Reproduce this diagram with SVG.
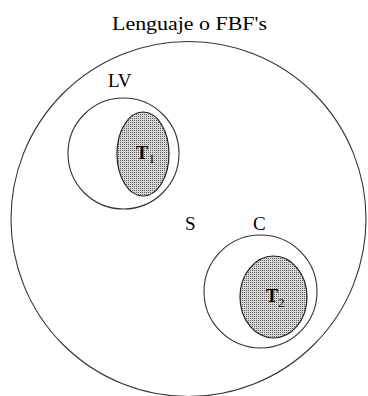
<svg xmlns="http://www.w3.org/2000/svg" width="368" height="396" viewBox="0 0 368 396">
<defs>
<pattern id="stipple" width="2" height="2" patternUnits="userSpaceOnUse">
<rect width="2" height="2" fill="#d8d8d8"/>
<rect width="1" height="1" fill="#606060"/>
</pattern>
<style>
.set{fill:none;stroke:#333;stroke-width:1.1}
.theory{fill:url(#stipple);stroke:#222;stroke-width:1.2}
text{font-family:'Liberation Serif','Times New Roman','DejaVu Serif',serif;fill:#000}
.lbl{font-size:19px}
.tl{font-size:18px;font-weight:bold}
.sub{font-size:13px}
</style>
</defs>
<rect width="368" height="396" fill="#fff"/>
<g id="language">
<text class="lbl" x="112" y="30" textLength="155" lengthAdjust="spacingAndGlyphs">Lenguaje o FBF's</text>
<circle class="set" cx="188.5" cy="219" r="177.5"/>
<text class="lbl" x="185" y="230" font-size="18">S</text>
</g>
<g id="LV">
<circle class="set" cx="123.5" cy="153.5" r="55.5"/>
<text class="lbl" x="108" y="87">LV</text>
</g>
<g id="T1">
<ellipse class="theory" cx="143" cy="154" rx="26" ry="42"/>
<text class="tl" x="136" y="159">T</text><text class="sub" x="148.5" y="163">1</text>
</g>
<g id="C">
<circle class="set" cx="260.5" cy="291.5" r="56.5"/>
<text class="lbl" x="253" y="230" font-size="18">C</text>
</g>
<g id="T2">
<ellipse class="theory" cx="273.5" cy="297" rx="33.5" ry="41"/>
<text class="tl" x="266" y="302">T</text><text class="sub" x="278" y="307">2</text>
</g>
<g id="connectors"/>
</svg>
